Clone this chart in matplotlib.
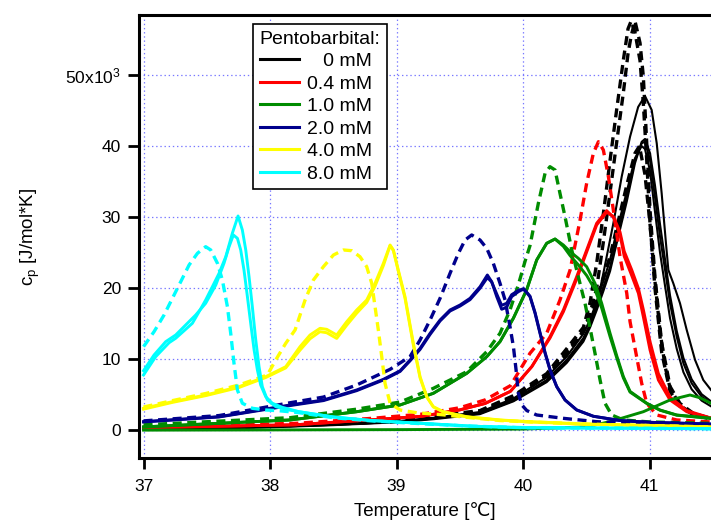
import matplotlib
matplotlib.use('Agg')
import matplotlib.pyplot as plt
from matplotlib.lines import Line2D
from matplotlib.ticker import FixedLocator, FixedFormatter

plt.rcParams['font.family'] = ['Liberation Sans', 'DejaVu Sans']
plt.rcParams['mathtext.fontset'] = 'custom'
plt.rcParams['mathtext.rm'] = 'Liberation Sans'
plt.rcParams['mathtext.it'] = 'Liberation Sans:italic'
plt.rcParams['lines.scale_dashes'] = False

# ---------------- data (cp in 10^3 J/mol*K) ----------------
concentrations = ['   0 mM', '0.4 mM', '1.0 mM', '2.0 mM', '4.0 mM', '8.0 mM']
colors = ['#000000', '#ff0000', '#008c00', '#00008c', '#ffff00', '#00ffff']

# 0 mM (black)
t_k_s1 = [37.0, 38.0, 38.5, 39.0, 39.3, 39.66, 39.924, 40.187, 40.345, 40.477, 40.53, 40.582, 40.635, 40.688, 40.74, 40.82, 40.885, 40.938, 40.964, 41.004, 41.043, 41.083, 41.123, 41.162, 41.215, 41.268, 41.333, 41.412, 41.486]
cp_k_s1 = [0.2, 0.5, 0.8, 1.2, 1.7, 2.41, 4.29, 7.1, 9.92, 13.0, 15.0, 17.4, 20.2, 23.0, 27.0, 32.9, 38.0, 40.39, 40.62, 38.04, 32.88, 27.26, 22.57, 17.89, 13.19, 9.45, 6.64, 4.75, 3.83]
cp_k_s2 = [0.25, 0.55, 0.85, 1.3, 1.8, 2.6, 4.5, 7.5, 10.4, 13.6, 15.6, 18.1, 21.0, 24.0, 28.0, 33.6, 38.3, 40.0, 39.6, 36.5, 30.8, 25.0, 20.3, 15.8, 11.5, 8.2, 5.8, 4.2, 3.4]
cp_k_s3 = [0.15, 0.45, 0.75, 1.15, 1.6, 2.3, 4.1, 6.8, 9.5, 12.5, 14.5, 16.9, 19.6, 22.4, 26.3, 32.2, 37.6, 40.6, 41.0, 39.0, 34.5, 29.0, 24.0, 19.0, 14.0, 10.2, 7.2, 5.1, 4.1]
t_k_tall = [37.0, 38.0, 38.5, 39.0, 39.3, 39.66, 39.924, 40.187, 40.345, 40.477, 40.53, 40.582, 40.635, 40.714, 40.78, 40.846, 40.91, 40.964, 41.017, 41.057, 41.096, 41.13, 41.149, 41.188, 41.241, 41.294, 41.36, 41.425, 41.486]
cp_k_tall = [0.2, 0.5, 0.8, 1.2, 1.7, 2.4, 4.2, 7.0, 9.8, 12.8, 14.8, 17.6, 22.11, 29.14, 35.7, 41.32, 45.5, 47.05, 45.08, 40.39, 33.36, 26.33, 22.57, 20.7, 17.89, 14.14, 9.92, 7.1, 5.7]
t_k_d = [37.0, 38.0, 39.0, 39.66, 39.924, 40.187, 40.345, 40.477, 40.53, 40.582, 40.635, 40.688, 40.74, 40.793, 40.83, 40.855, 40.885, 40.925, 40.951, 40.978, 41.004, 41.043, 41.096, 41.162, 41.241, 41.347, 41.486]
cp_k_d1 = [0.3, 0.6, 1.4, 2.8, 4.9, 8.0, 11.5, 14.5, 18.0, 23.5, 30.5, 38.0, 45.1, 52.1, 56.5, 57.6, 56.0, 52.0, 46.0, 38.0, 29.0, 20.0, 11.0, 5.5, 3.4, 2.2, 1.6]
cp_k_d2 = [0.3, 0.6, 1.3, 2.7, 4.7, 7.7, 11.0, 14.0, 16.5, 20.0, 26.5, 33.5, 40.5, 47.5, 53.0, 55.5, 57.6, 54.5, 49.8, 40.4, 31.0, 21.6, 12.3, 6.2, 3.8, 2.4, 1.7]
t_k_d3 = [37.0, 38.0, 39.0, 39.66, 39.924, 40.187, 40.345, 40.477, 40.53, 40.582, 40.635, 40.688, 40.74, 40.82, 40.885, 40.92, 40.964, 41.004, 41.043, 41.083, 41.123, 41.162, 41.241, 41.347, 41.486]
cp_k_d3 = [0.3, 0.6, 1.3, 2.6, 4.6, 7.6, 10.6, 14.0, 16.0, 18.6, 21.5, 24.5, 28.5, 34.5, 39.0, 40.0, 36.0, 29.0, 21.0, 14.0, 9.0, 6.0, 3.5, 2.3, 1.7]

# 0.4 mM (red)
t_r_s = [37.0, 38.2, 38.8, 39.2, 39.5, 39.7, 39.9, 40.07, 40.213, 40.319, 40.424, 40.503, 40.582, 40.661, 40.714, 40.767, 40.8, 40.859, 40.912, 40.951, 41.004, 41.07, 41.162, 41.294, 41.486]
cp_r_s1 = [0.4, 0.8, 1.5, 2.0, 2.9, 3.8, 5.5, 9.0, 13.19, 16.95, 21.63, 25.39, 29.14, 30.92, 30.0, 27.5, 24.5, 21.8, 19.3, 16.0, 11.32, 7.1, 4.29, 2.64, 1.71]
cp_r_s2 = [0.4, 0.8, 1.5, 2.0, 2.9, 3.8, 5.5, 9.0, 13.0, 16.7, 21.3, 25.1, 28.9, 30.7, 30.1, 27.9, 25.2, 22.6, 20.0, 17.0, 12.5, 8.0, 4.7, 2.8, 1.75]
t_r_d = [37.0, 38.2, 38.8, 39.2, 39.5, 39.7, 39.9, 40.055, 40.187, 40.292, 40.372, 40.451, 40.503, 40.556, 40.596, 40.635, 40.675, 40.714, 40.767, 40.82, 40.846, 40.898, 40.938, 40.978, 41.057, 41.215, 41.486]
cp_r_d = [0.5, 1.0, 1.7, 2.3, 3.2, 4.3, 6.3, 10.86, 13.67, 18.35, 22.57, 29.61, 34.77, 38.99, 40.62, 39.45, 35.7, 31.01, 24.4, 19.3, 15.3, 10.38, 6.64, 3.83, 2.18, 1.48, 1.2]

# 1.0 mM (green)
t_g_s = [37.0, 38.158, 38.685, 39.028, 39.291, 39.555, 39.713, 39.818, 39.924, 40.029, 40.108, 40.187, 40.253, 40.319, 40.372, 40.437, 40.503, 40.569, 40.622, 40.688, 40.741, 40.793, 40.846, 40.978, 41.083, 41.215, 41.486]
cp_g_s1 = [0.5, 1.48, 2.64, 3.59, 5.23, 8.04, 10.38, 12.5, 15.8, 19.8, 23.98, 26.33, 26.93, 26.09, 25.15, 24.22, 23.04, 20.7, 17.89, 13.67, 10.5, 7.6, 5.5, 3.83, 2.88, 2.18, 1.71]
cp_g_s2 = [0.5, 1.48, 2.64, 3.59, 5.23, 8.04, 10.38, 12.5, 15.8, 19.8, 23.98, 26.33, 26.93, 25.9, 24.6, 23.3, 21.8, 19.8, 17.2, 13.2, 10.2, 7.4, 5.4, 3.8, 2.85, 2.15, 1.7]
t_g_d = [37.0, 38.158, 38.685, 39.028, 39.291, 39.555, 39.713, 39.818, 39.897, 39.963, 40.016, 40.055, 40.121, 40.174, 40.213, 40.253, 40.292, 40.332, 40.385, 40.437, 40.49, 40.53, 40.569, 40.609, 40.648, 40.701, 40.793, 41.0, 41.486]
cp_g_d = [0.8, 1.8, 3.0, 4.0, 5.93, 8.27, 11.09, 13.67, 16.95, 20.5, 23.8, 26.0, 31.95, 36.17, 37.1, 36.64, 33.36, 30.07, 25.39, 21.63, 17.89, 14.4, 10.86, 7.1, 3.83, 2.18, 1.48, 1.2, 1.0]
t_g_low = [37.0, 38.0, 39.0, 40.0, 40.5, 40.7, 40.951, 41.162, 41.32, 41.399, 41.486]
cp_g_low = [0.05, 0.08, 0.12, 0.2, 0.5, 1.3, 2.64, 4.29, 4.99, 4.6, 3.83]

# 2.0 mM (navy)
t_n_s = [37.0, 37.597, 38.158, 38.422, 38.685, 38.896, 39.028, 39.107, 39.186, 39.265, 39.344, 39.423, 39.502, 39.581, 39.66, 39.718, 39.752, 39.792, 39.831, 39.871, 39.91, 39.963, 40.005, 40.055, 40.095, 40.134, 40.174, 40.213, 40.266, 40.332, 40.424, 40.556, 40.767, 41.0, 41.486]
cp_n_s1 = [1.24, 1.94, 3.59, 4.29, 5.7, 7.2, 8.4, 9.92, 11.56, 13.67, 15.54, 16.95, 17.65, 18.59, 20.22, 21.87, 20.93, 18.82, 17.05, 17.33, 18.82, 19.52, 19.9, 18.82, 16.48, 13.67, 10.86, 8.51, 6.16, 4.29, 2.88, 2.0, 1.4, 1.15, 0.9]
cp_n_s2 = [1.2, 1.9, 3.5, 4.2, 5.6, 7.1, 8.3, 9.8, 11.4, 13.5, 15.4, 16.8, 17.5, 18.4, 20.0, 21.5, 20.9, 19.2, 17.6, 17.9, 19.1, 19.7, 19.95, 18.9, 16.6, 13.8, 11.0, 8.6, 6.2, 4.3, 2.9, 2.0, 1.4, 1.15, 0.9]
t_n_d = [37.0, 37.597, 38.158, 38.422, 38.685, 38.949, 39.107, 39.186, 39.265, 39.344, 39.423, 39.489, 39.542, 39.594, 39.66, 39.713, 39.765, 39.818, 39.858, 39.897, 39.924, 39.945, 39.963, 39.99, 40.03, 40.108, 40.319, 40.582, 40.846, 41.486]
cp_n_d = [1.35, 2.1, 3.9, 4.7, 6.4, 8.6, 10.4, 12.73, 15.54, 18.59, 22.11, 24.92, 26.79, 27.5, 26.79, 25.62, 23.52, 20.7, 18.35, 14.6, 11.79, 8.51, 5.23, 3.6, 2.8, 2.18, 1.71, 1.24, 1.01, 0.8]

# 4.0 mM (yellow)
t_y_s = [37.0, 37.228, 37.491, 37.755, 37.966, 38.124, 38.237, 38.316, 38.395, 38.448, 38.527, 38.606, 38.685, 38.764, 38.83, 38.896, 38.949, 38.975, 39.014, 39.067, 39.133, 39.186, 39.239, 39.291, 39.37, 39.555, 39.818, 40.055, 40.5, 41.0, 41.486]
cp_y_s1 = [3.12, 4.05, 4.99, 6.16, 7.57, 8.97, 11.79, 13.43, 14.37, 14.23, 13.43, 15.3, 16.95, 18.35, 20.7, 23.52, 26.09, 25.39, 22.57, 18.82, 12.26, 7.57, 4.75, 3.35, 2.64, 1.94, 1.48, 1.24, 0.9, 0.7, 0.5]
cp_y_s2 = [3.0, 3.95, 4.9, 6.05, 7.45, 8.8, 11.3, 12.9, 13.9, 13.75, 12.95, 14.8, 16.5, 18.0, 20.3, 23.2, 26.0, 25.3, 22.4, 18.6, 12.0, 7.4, 4.7, 3.3, 2.6, 1.9, 1.45, 1.2, 0.88, 0.68, 0.48]
t_y_d = [37.0, 37.228, 37.491, 37.755, 37.979, 38.045, 38.124, 38.198, 38.277, 38.343, 38.422, 38.501, 38.58, 38.646, 38.711, 38.764, 38.804, 38.83, 38.856, 38.883, 38.909, 38.949, 39.028, 39.159, 39.37, 39.555, 39.818, 40.055, 40.5, 41.0, 41.486]
cp_y_d = [3.3, 4.2, 5.2, 6.4, 7.81, 9.92, 12.26, 14.14, 18.35, 21.17, 23.04, 24.68, 25.39, 25.29, 24.44, 23.04, 20.7, 17.41, 14.14, 10.38, 6.64, 3.83, 2.88, 2.5, 2.2, 1.85, 1.4, 1.2, 0.9, 0.7, 0.5]

# 8.0 mM (cyan)
t_c_s1 = [37.0, 37.096, 37.202, 37.254, 37.333, 37.386, 37.439, 37.491, 37.544, 37.597, 37.65, 37.702, 37.747, 37.781, 37.808, 37.834, 37.86, 37.887, 37.913, 37.939, 37.979, 38.045, 38.15, 38.229, 38.5, 38.8, 39.2, 39.6, 40.0, 41.0, 41.486]
cp_c_s1 = [7.81, 10.38, 12.35, 12.97, 14.23, 15.08, 16.71, 18.35, 20.22, 22.11, 24.44, 27.74, 30.17, 28.2, 25.39, 21.63, 17.41, 12.73, 8.97, 6.16, 4.29, 3.35, 2.88, 2.64, 1.9, 1.4, 1.0, 0.6, 0.4, 0.3, 0.25]
t_c_s2 = [37.0, 37.083, 37.175, 37.254, 37.333, 37.412, 37.491, 37.571, 37.636, 37.676, 37.71, 37.742, 37.768, 37.794, 37.821, 37.847, 37.874, 37.9, 37.926, 37.966, 38.018, 38.097, 38.229, 38.5, 38.8, 39.2, 39.6, 40.0, 41.0, 41.486]
cp_c_s2 = [8.41, 10.62, 12.49, 13.43, 14.84, 16.24, 17.89, 20.46, 23.52, 25.85, 27.5, 27.03, 25.39, 22.57, 18.82, 15.08, 11.32, 8.51, 6.4, 4.75, 3.83, 3.26, 2.64, 1.9, 1.4, 1.0, 0.6, 0.4, 0.3, 0.25]
t_c_d = [37.0, 37.083, 37.162, 37.228, 37.294, 37.36, 37.426, 37.491, 37.531, 37.584, 37.623, 37.663, 37.689, 37.715, 37.742, 37.781, 37.86, 37.966, 38.071, 38.229, 38.5, 38.8, 39.2, 39.6, 40.0, 41.0, 41.486]
cp_c_d = [11.79, 13.9, 16.24, 18.59, 20.93, 23.28, 24.92, 25.85, 25.39, 23.52, 21.17, 17.41, 13.67, 9.45, 5.7, 3.83, 3.12, 2.88, 2.78, 2.5, 1.8, 1.35, 0.95, 0.6, 0.4, 0.3, 0.25]

ytick_values = [0, 10, 20, 30, 40, 50]
ytick_labels = ['0', '10', '20', '30', '40', '50x10$^{3}$']
xtick_values = [37, 38, 39, 40, 41]

# ---------------- figure ----------------
W, H = 711, 524
fig = plt.figure(figsize=(W / 100, H / 100), dpi=100)
ax = fig.add_axes([139 / W, 66 / H, 572 / W, 443 / H])

SOLID_LW = 2.1
BLACK_LW = 1.5
DASH_LW = 2.4
DASHES = (6.5, 4)


def solid(t, c, color, lw=SOLID_LW):
    ax.plot(t, c, color=color, lw=lw, solid_joinstyle='round')


def dashed(t, c, color, lw=DASH_LW):
    ax.plot(t, c, color=color, lw=lw, dashes=DASHES, dash_capstyle='butt')


k, r, g, n, y, c = colors
# black
solid(t_k_s1, cp_k_s1, k, BLACK_LW)
solid(t_k_s1, cp_k_s2, k, BLACK_LW)
solid(t_k_s1, cp_k_s3, k, BLACK_LW)
solid(t_k_tall, cp_k_tall, k, BLACK_LW)
dashed(t_k_d, cp_k_d1, k)
dashed(t_k_d, cp_k_d2, k)
dashed(t_k_d3, cp_k_d3, k)
# red
solid(t_r_s, cp_r_s1, r)
solid(t_r_s, cp_r_s2, r)
dashed(t_r_d, cp_r_d, r)
# green
solid(t_g_low, cp_g_low, g)
solid(t_g_s, cp_g_s1, g)
solid(t_g_s, cp_g_s2, g)
dashed(t_g_d, cp_g_d, g)
# navy
solid(t_n_s, cp_n_s1, n)
solid(t_n_s, cp_n_s2, n)
dashed(t_n_d, cp_n_d, n)
# yellow
solid(t_y_s, cp_y_s1, y)
solid(t_y_s, cp_y_s2, y)
dashed(t_y_d, cp_y_d, y)
# cyan
solid(t_c_s1, cp_c_s1, c)
solid(t_c_s2, cp_c_s2, c)
dashed(t_c_d, cp_c_d, c)

ax.set_xlim(36.964, 41.486)
ax.set_ylim(-3.87, 58.44)

ax.xaxis.set_major_locator(FixedLocator(xtick_values))
ax.yaxis.set_major_locator(FixedLocator(ytick_values))
ax.yaxis.set_major_formatter(FixedFormatter(ytick_labels))

ax.grid(True, color='#7878ff', linestyle=(0, (1, 2)), lw=0.9)
ax.set_axisbelow(True)

for side in ['left', 'bottom', 'top']:
    ax.spines[side].set_linewidth(2.2)
ax.spines['right'].set_visible(False)
ax.tick_params(axis='both', direction='out', length=8, width=2.0,
               labelsize=12.5, top=False, right=False)
ax.tick_params(axis='x', pad=7)
ax.tick_params(axis='y', pad=5)

ax.set_xlabel('Temperature [\u2103]', fontsize=13.5, labelpad=6)
ax.set_ylabel('c$_{\\mathrm{p}}$ [J/mol*K]', fontsize=13.5, labelpad=17)

handles = [Line2D([], [], color=col, lw=2.2) for col in colors]
leg = ax.legend(handles, concentrations, title='Pentobarbital:', alignment='left',
                loc='upper left', bbox_to_anchor=((253 - 139) / 572, (458 - 24) / 443),
                borderaxespad=0, fontsize=14, title_fontsize=14,
                handlelength=2.0, handletextpad=0.45, labelspacing=0.25,
                borderpad=0.35, fancybox=False, framealpha=1, edgecolor='black')
leg.get_frame().set_linewidth(1.2)

fig.savefig('out.png', dpi=100)
